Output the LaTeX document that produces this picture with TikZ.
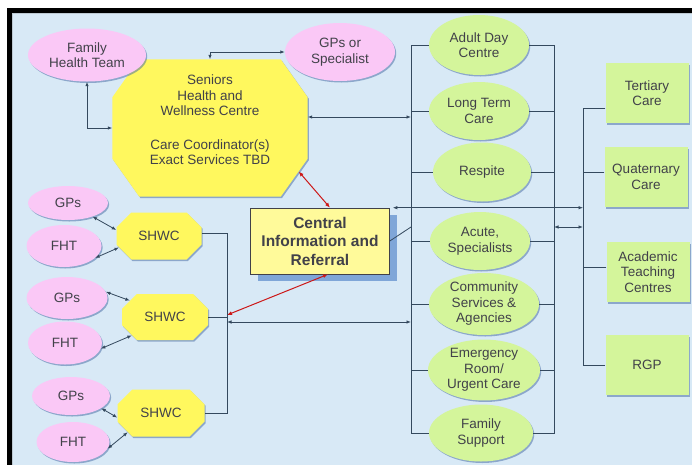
\documentclass[tikz,border=0pt]{standalone}
\usepackage{fontspec}
\setmainfont{Liberation Sans}
\usetikzlibrary{shapes.geometric,shapes.misc,shadows,arrows.meta}
\definecolor{bgblue}{HTML}{D8E9F6}
\definecolor{pinkfill}{HTML}{FAC8F6}
\definecolor{limefill}{HTML}{D4F59B}
\definecolor{yelfill}{HTML}{FFF85E}
\definecolor{boxfill}{HTML}{FFFA9A}
\definecolor{linecol}{HTML}{34495E}
\definecolor{redline}{HTML}{CC1818}
\definecolor{txtgray}{HTML}{414149}
\definecolor{shadowblue}{HTML}{4F72A8}
\definecolor{gridblue}{HTML}{7FA6D8}

\begin{document}
\begin{tikzpicture}[x=1pt,y=-1pt,
  every node/.style={font=\fontsize{13.5}{15.5}\selectfont, text=txtgray, align=center, inner sep=0pt},
  softshadow/.style={drop shadow={shadow xshift=1.2pt,shadow yshift=-1.5pt,fill=shadowblue,opacity=.55}},
  pinkell/.style={ellipse, fill=pinkfill, softshadow},
  limeell/.style={ellipse, fill=limefill, softshadow},
  limebox/.style={rectangle, fill=limefill, minimum width=83pt, minimum height=60pt, softshadow},
  yeloct/.style={chamfered rectangle, fill=yelfill, softshadow},
  cirbox/.style={rectangle, fill=boxfill, draw=txtgray, line width=0.6pt,
    minimum width=139pt, minimum height=66pt,
    font=\fontsize{15.5}{18.5}\selectfont\bfseries,
    drop shadow={shadow xshift=7pt,shadow yshift=-7pt,fill=gridblue,opacity=1}},
  conn/.style={draw=linecol, line width=0.8pt},
  biarrow/.style={conn, {Latex[length=4.5pt,width=3.5pt]}-{Latex[length=4.5pt,width=3.5pt]}},
  redarrow/.style={draw=redline, line width=1pt, {Latex[length=5pt,width=4pt]}-{Latex[length=5pt,width=4pt]}}]
\useasboundingbox (0,0) rectangle (692,464);
% frame and background
\fill[white] (0,0) rectangle (700,470);
\fill[black] (7,8) rectangle (700,470);
\fill[bgblue] (12,13) rectangle (700,470);
\draw[bgblue!70!gray, line width=0.8pt] (700,13.5) -- (12.5,13.5) -- (12.5,470);

% seniors centre and its partners
\node[minimum width=195pt, minimum height=137pt] (shwc) at (210,128) {};
\fill[yelfill, softshadow] ([xshift=27pt]shwc.north west) -- ([xshift=-27pt]shwc.north east)
  -- ([yshift=-38pt]shwc.north east) -- ([yshift=38pt]shwc.south east)
  -- ([xshift=-27pt]shwc.south east) -- ([xshift=27pt]shwc.south west)
  -- ([yshift=38pt]shwc.south west) -- ([yshift=-38pt]shwc.north west) -- cycle;
\node (shwctext) at (210,120) {Seniors\\Health and\\Wellness Centre\\[18pt]Care Coordinator(s)\\Exact Services TBD};
\node[pinkell, minimum width=118pt, minimum height=53pt] (fhteam) at (87,55) {Family\\Health Team};
\node[pinkell, minimum width=110pt, minimum height=58pt] (gpspec) at (340,52) {GPs or\\Specialist};

\node[cirbox] (cir) at (320,241) {Central\\Information and\\Referral};

% local SHWCs
\node[pinkell, minimum width=80pt, minimum height=34pt] (gps1) at (68,203) {GPs};
\node[pinkell, minimum width=75pt, minimum height=42pt] (fht1) at (64,246) {FHT};
\node[pinkell, minimum width=81pt, minimum height=42pt] (gps2) at (67,298) {GPs};
\node[pinkell, minimum width=74pt, minimum height=43pt] (fht2) at (65,343) {FHT};
\node[pinkell, minimum width=78pt, minimum height=38pt] (gps3) at (71,396) {GPs};
\node[pinkell, minimum width=73pt, minimum height=40pt] (fht3) at (73,442) {FHT};
\node[yeloct, minimum width=85pt, minimum height=47pt,
  chamfered rectangle xsep=7pt, chamfered rectangle ysep=10pt] (shwc1) at (159,236) {SHWC};
\node[yeloct, minimum width=86pt, minimum height=46pt,
  chamfered rectangle xsep=7pt, chamfered rectangle ysep=10pt] (shwc2) at (165,317) {SHWC};
\node[yeloct, minimum width=87pt, minimum height=47pt,
  chamfered rectangle xsep=7pt, chamfered rectangle ysep=10pt] (shwc3) at (161,413) {SHWC};

% services column
\node[limeell, minimum width=100pt, minimum height=60pt] (adc) at (479,45) {Adult Day\\Centre};
\node[limeell, minimum width=100pt, minimum height=58pt] (ltc) at (479,111) {Long Term\\Care};
\node[limeell, minimum width=98pt, minimum height=59pt] (resp) at (482,172) {Respite};
\node[limeell, minimum width=100pt, minimum height=58pt] (acute) at (480,241) {Acute,\\Specialists};
\node[limeell, minimum width=110pt, minimum height=62pt] (comm) at (484,304) {Community\\Services \&\\Agencies};
\node[limeell, minimum width=112pt, minimum height=60pt] (er) at (484,370) {Emergency\\Room/\\Urgent Care};
\node[limeell, minimum width=104pt, minimum height=57pt] (famsup) at (481,433) {Family\\Support};

% higher levels of care
\node[limebox] (tert) at (647,93) {Tertiary\\Care};
\node[limebox] (quat) at (646,177) {Quaternary\\Care};
\node[limebox] (acad) at (648,272) {Academic\\Teaching\\Centres};
\node[limebox] (rgp) at (647,365) {RGP};

\coordinate (lbar) at (411,45);
\coordinate (rbar) at (554,45);
\coordinate (xbar) at (583,108);
\coordinate (sbar) at (227,233);
\coordinate (midlink) at (554,227);

% left and right bars of the services column
\draw[conn] (adc.west) -- (adc.west -| lbar) -- (lbar |- famsup.west) -- (famsup.west);
\draw[conn] (ltc.west -| lbar) -- (ltc.west);
\draw[conn] (resp.west -| lbar) -- (resp.west);
\draw[conn] (acute.west -| lbar) -- (acute.west);
\draw[conn] (comm.west -| lbar) -- (comm.west);
\draw[conn] (er.west -| lbar) -- (er.west);
\draw[conn] (adc.east) -- (adc.east -| rbar) -- (rbar |- famsup.east) -- (famsup.east);
\draw[conn] (ltc.east) -- (ltc.east -| rbar);
\draw[conn] (resp.east) -- (resp.east -| rbar);
\draw[conn] (acute.east) -- (acute.east -| rbar);
\draw[conn] (comm.east) -- (comm.east -| rbar);
\draw[conn] (er.east) -- (er.east -| rbar);

% bar of the higher levels
\draw[conn] ([yshift=-15pt]tert.west) -- ([yshift=-15pt]tert.west -| xbar) -- (xbar |- rgp.west) -- (rgp.west);
\draw[conn] ([yshift=5pt]quat.west) -- ([yshift=5pt]quat.west -| xbar);
\draw[conn] ([yshift=5pt]acad.west) -- ([yshift=5pt]acad.west -| xbar);
\draw[biarrow] (midlink) -- (midlink -| xbar);
\draw[biarrow] ([xshift=3pt]cir.north east) -- (cir.north east -| xbar);
\draw[conn] (cir.east) -- (lbar |- midlink);

% seniors centre links
\draw[biarrow] (shwc.north) |- (gpspec.west);
\draw[biarrow] (fhteam.south) |- (shwc.west);
\draw[biarrow] ([yshift=11pt]shwc.east) -- ([yshift=11pt]shwc.east -| lbar);
\draw[redarrow] ([xshift=-9pt]shwc.-24) -- ([xshift=10pt]cir.north);
\draw[redarrow] ([xshift=8pt]cir.south) -- ([yshift=2pt]shwc2.east -| sbar);

% bar of the local SHWCs
\draw[conn] ([yshift=3pt]shwc1.east) -- ([yshift=3pt]shwc1.east -| sbar) -- (sbar |- shwc3.east) -- (shwc3.east);
\draw[conn] (shwc2.east) -- (shwc2.east -| sbar);
\draw[biarrow] ([yshift=-5pt]shwc2.east -| sbar) -- ([yshift=-5pt]shwc2.east -| lbar);

% GPs and FHTs to SHWCs
\draw[biarrow] (gps1.-29) -- (shwc1.172);
\draw[biarrow] (fht1.-21) -- (shwc1.196);
\draw[biarrow] (gps2.9) -- (shwc2.155);
\draw[biarrow] (fht2.-9) -- (shwc2.209);
\draw[biarrow] (gps3.-22) -- (shwc3.186);
\draw[biarrow] (fht3.-11) -- (shwc3.210);
\end{tikzpicture}
\end{document}
